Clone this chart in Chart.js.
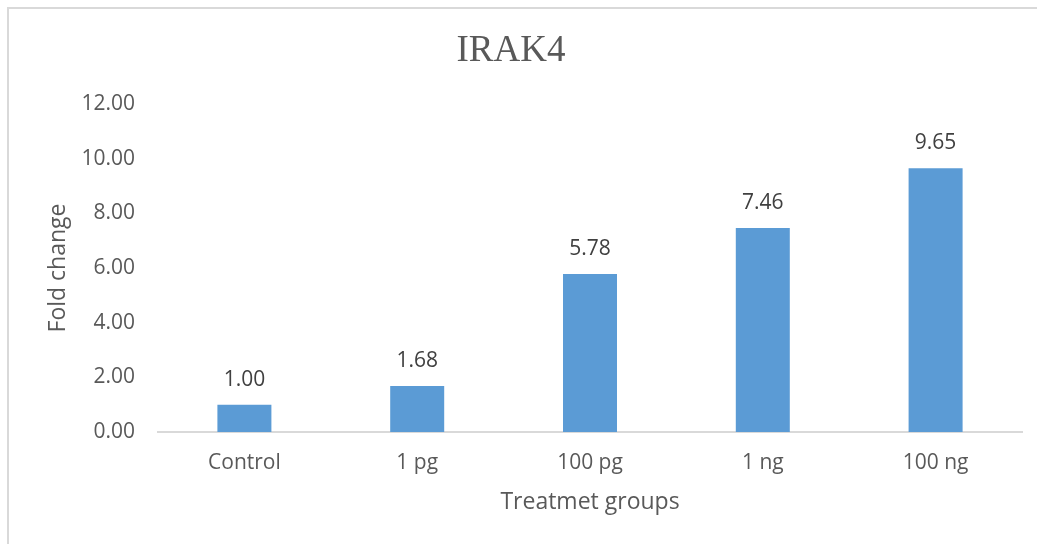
<!DOCTYPE html>
<html>
<head>
<meta charset="utf-8">
<script src="https://cdn.jsdelivr.net/npm/chart.js@4/dist/chart.umd.min.js"></script>
<style>
  html, body { margin: 0; padding: 0; background: #ffffff; overflow: hidden; }
  #wrap { position: relative; width: 1037px; height: 544px; }
  #frame { position: absolute; left: 7px; top: 7px; width: 1100px; height: 600px;
           border-left: 2px solid #d9d9d9; border-top: 2px solid #d9d9d9; pointer-events: none; }
  canvas { position: absolute; left: 0; top: 0; }
</style>
</head>
<body>
<div id="wrap">
  <canvas id="c" width="1037" height="544"></canvas>
  <div id="frame"></div>
</div>
<script>
const chartTitle = "IRAK4";
const categories = ["Control", "1 pg", "100 pg", "1 ng", "100 ng"];
const foldChange = [1.00, 1.68, 5.78, 7.46, 9.65];
const yTitle = "Fold change";
const xTitle = "Treatmet groups";

const FONT = "'Open Sans', 'Noto Sans', sans-serif";

const dataLabels = {
  id: 'dataLabels',
  afterDatasetsDraw(chart) {
    const ctx = chart.ctx;
    const meta = chart.getDatasetMeta(0);
    ctx.save();
    ctx.font = "21px " + FONT;
    ctx.fillStyle = "#404040";
    ctx.textAlign = "center";
    ctx.textBaseline = "middle";
    meta.data.forEach((bar, i) => {
      ctx.fillText(foldChange[i].toFixed(2), bar.x, bar.y - 25);
    });
    ctx.restore();
  }
};

new Chart(document.getElementById('c'), {
  type: 'bar',
  data: {
    labels: categories,
    datasets: [{
      data: foldChange,
      backgroundColor: '#5b9bd5',
      borderWidth: 0,
      categoryPercentage: 1.0,
      barPercentage: 0.3125
    }]
  },
  options: {
    responsive: false,
    maintainAspectRatio: false,
    animation: false,
    layout: { padding: { left: 0, right: 15, top: 0, bottom: 0 } },
    plugins: {
      legend: { display: false },
      tooltip: { enabled: false },
      title: {
        display: true,
        text: chartTitle,
        color: '#595959',
        font: { family: "'Liberation Serif', 'Times New Roman', serif", size: 37, weight: 'normal', lineHeight: 1.2 },
        padding: { top: 29, bottom: 30.6 }
      }
    },
    scales: {
      x: {
        grid: { display: false, drawTicks: false },
        border: { display: true, color: '#d9d9d9', width: 2 },
        ticks: { color: '#595959', font: { family: FONT, size: 21 }, padding: 18, maxRotation: 0 },
        title: { display: true, text: xTitle, color: '#595959', font: { family: FONT, size: 23, lineHeight: 1.2 }, padding: { top: 0, bottom: 28 } },
        afterFit(s) { s.height = 544 - 432; }
      },
      y: {
        min: 0, max: 12,
        grid: { display: false, drawTicks: false },
        border: { display: false },
        ticks: { stepSize: 2, color: '#595959', font: { family: FONT, size: 21 }, padding: 23,
                 callback: v => Number(v).toFixed(2) },
        title: { display: true, text: yTitle, color: '#595959', font: { family: FONT, size: 23, lineHeight: 1.2 }, padding: { top: 45, bottom: 0 } },
        afterFit(s) { s.width = 158; }
      }
    }
  },
  plugins: [dataLabels]
});
</script>
</body>
</html>
